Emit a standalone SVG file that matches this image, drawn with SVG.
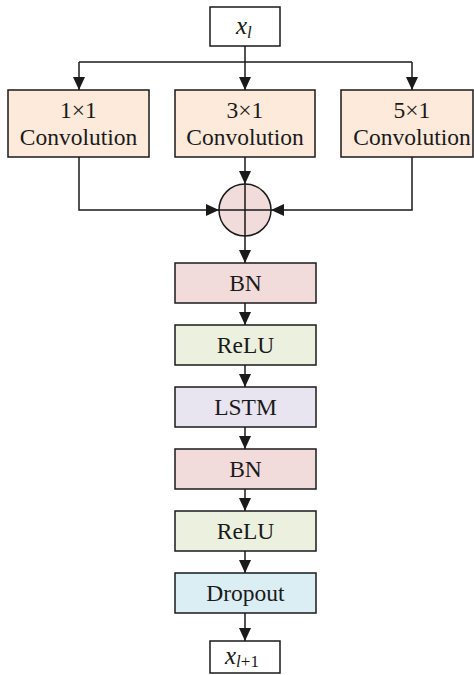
<svg xmlns="http://www.w3.org/2000/svg" width="474" height="675" viewBox="0 0 474 675">
  <style>
    .box { stroke: #1a1a1a; stroke-width: 1.5; }
    .wire { fill: none; stroke: #1a1a1a; stroke-width: 1.5; }
    .lbl { font-family: "Liberation Serif", "Times New Roman", serif; font-size: 23.5px; fill: #1a1a1a; text-anchor: middle; }
    .var { font-family: "Liberation Serif", "Times New Roman", serif; font-style: italic; font-size: 25px; fill: #1a1a1a; }
    .sub { font-size: 17px; }
    .conv { fill: #FDEADA; }
    .bn { fill: #F2DCDB; }
    .relu { fill: #EBF1DE; }
    .lstm { fill: #E9E5F0; }
    .drop { fill: #DBEEF4; }
  </style>
  <defs>
    <marker id="arrow" viewBox="0 0 13 12" refX="13" refY="6" markerWidth="13" markerHeight="12" markerUnits="userSpaceOnUse" orient="auto">
      <path d="M0,0 L13,6 L0,12 z" fill="#1a1a1a"/>
    </marker>
  </defs>
  <rect width="474" height="675" fill="#ffffff"/>

  <g id="connectors">
    <!-- fan-out from input -->
    <path class="wire" d="M245,46 V62"/>
    <path class="wire" d="M79,62 H412"/>
    <path class="wire" d="M79,62 V90" marker-end="url(#arrow)"/>
    <path class="wire" d="M245,62 V90" marker-end="url(#arrow)"/>
    <path class="wire" d="M412,62 V90" marker-end="url(#arrow)"/>
    <!-- merge into sum -->
    <path class="wire" d="M79,157 V210 H219" marker-end="url(#arrow)"/>
    <path class="wire" d="M245,157 V184" marker-end="url(#arrow)"/>
    <path class="wire" d="M412,157 V210 H271" marker-end="url(#arrow)"/>
    <!-- main chain -->
    <path class="wire" d="M245,236 V263" marker-end="url(#arrow)"/>
    <path class="wire" d="M245,303 V325" marker-end="url(#arrow)"/>
    <path class="wire" d="M245,365 V387" marker-end="url(#arrow)"/>
    <path class="wire" d="M245,427 V449" marker-end="url(#arrow)"/>
    <path class="wire" d="M245,489 V511" marker-end="url(#arrow)"/>
    <path class="wire" d="M245,551 V573" marker-end="url(#arrow)"/>
    <path class="wire" d="M245,613 V641" marker-end="url(#arrow)"/>
  </g>

  <g id="input">
    <rect class="box" x="210" y="7" width="70" height="39" fill="#ffffff"/>
    <text class="var" x="236" y="34">x<tspan class="sub" dy="4">l</tspan></text>
  </g>

  <g id="conv1">
    <rect class="box conv" x="8" y="90" width="141" height="67"/>
    <text class="lbl" x="78.5" y="118">1×1</text>
    <text class="lbl" x="78.5" y="145">Convolution</text>
  </g>
  <g id="conv3">
    <rect class="box conv" x="175" y="90" width="140" height="67"/>
    <text class="lbl" x="245" y="118">3×1</text>
    <text class="lbl" x="245" y="145">Convolution</text>
  </g>
  <g id="conv5">
    <rect class="box conv" x="341" y="90" width="132" height="67"/>
    <text class="lbl" x="412" y="118">5×1</text>
    <text class="lbl" x="412" y="145">Convolution</text>
  </g>

  <g id="sum">
    <circle class="box bn" cx="245" cy="210" r="26"/>
    <path class="wire" d="M219,210 H271 M245,184 V236"/>
  </g>

  <g id="bn1">
    <rect class="box bn" x="175" y="263" width="141" height="40"/>
    <text class="lbl" x="245.5" y="291">BN</text>
  </g>
  <g id="relu1">
    <rect class="box relu" x="175" y="325" width="141" height="40"/>
    <text class="lbl" x="245.5" y="353">ReLU</text>
  </g>
  <g id="lstm">
    <rect class="box lstm" x="175" y="387" width="141" height="40"/>
    <text class="lbl" x="245.5" y="415">LSTM</text>
  </g>
  <g id="bn2">
    <rect class="box bn" x="175" y="449" width="141" height="40"/>
    <text class="lbl" x="245.5" y="477">BN</text>
  </g>
  <g id="relu2">
    <rect class="box relu" x="175" y="511" width="141" height="40"/>
    <text class="lbl" x="245.5" y="539">ReLU</text>
  </g>
  <g id="dropout">
    <rect class="box drop" x="175" y="573" width="141" height="40"/>
    <text class="lbl" x="245.5" y="601">Dropout</text>
  </g>

  <g id="output">
    <rect class="box" x="210" y="641" width="70" height="32" fill="#ffffff"/>
    <text class="var" x="225" y="664">x<tspan class="sub" dy="3">l</tspan><tspan class="sub" font-style="normal">+1</tspan></text>
  </g>
</svg>
